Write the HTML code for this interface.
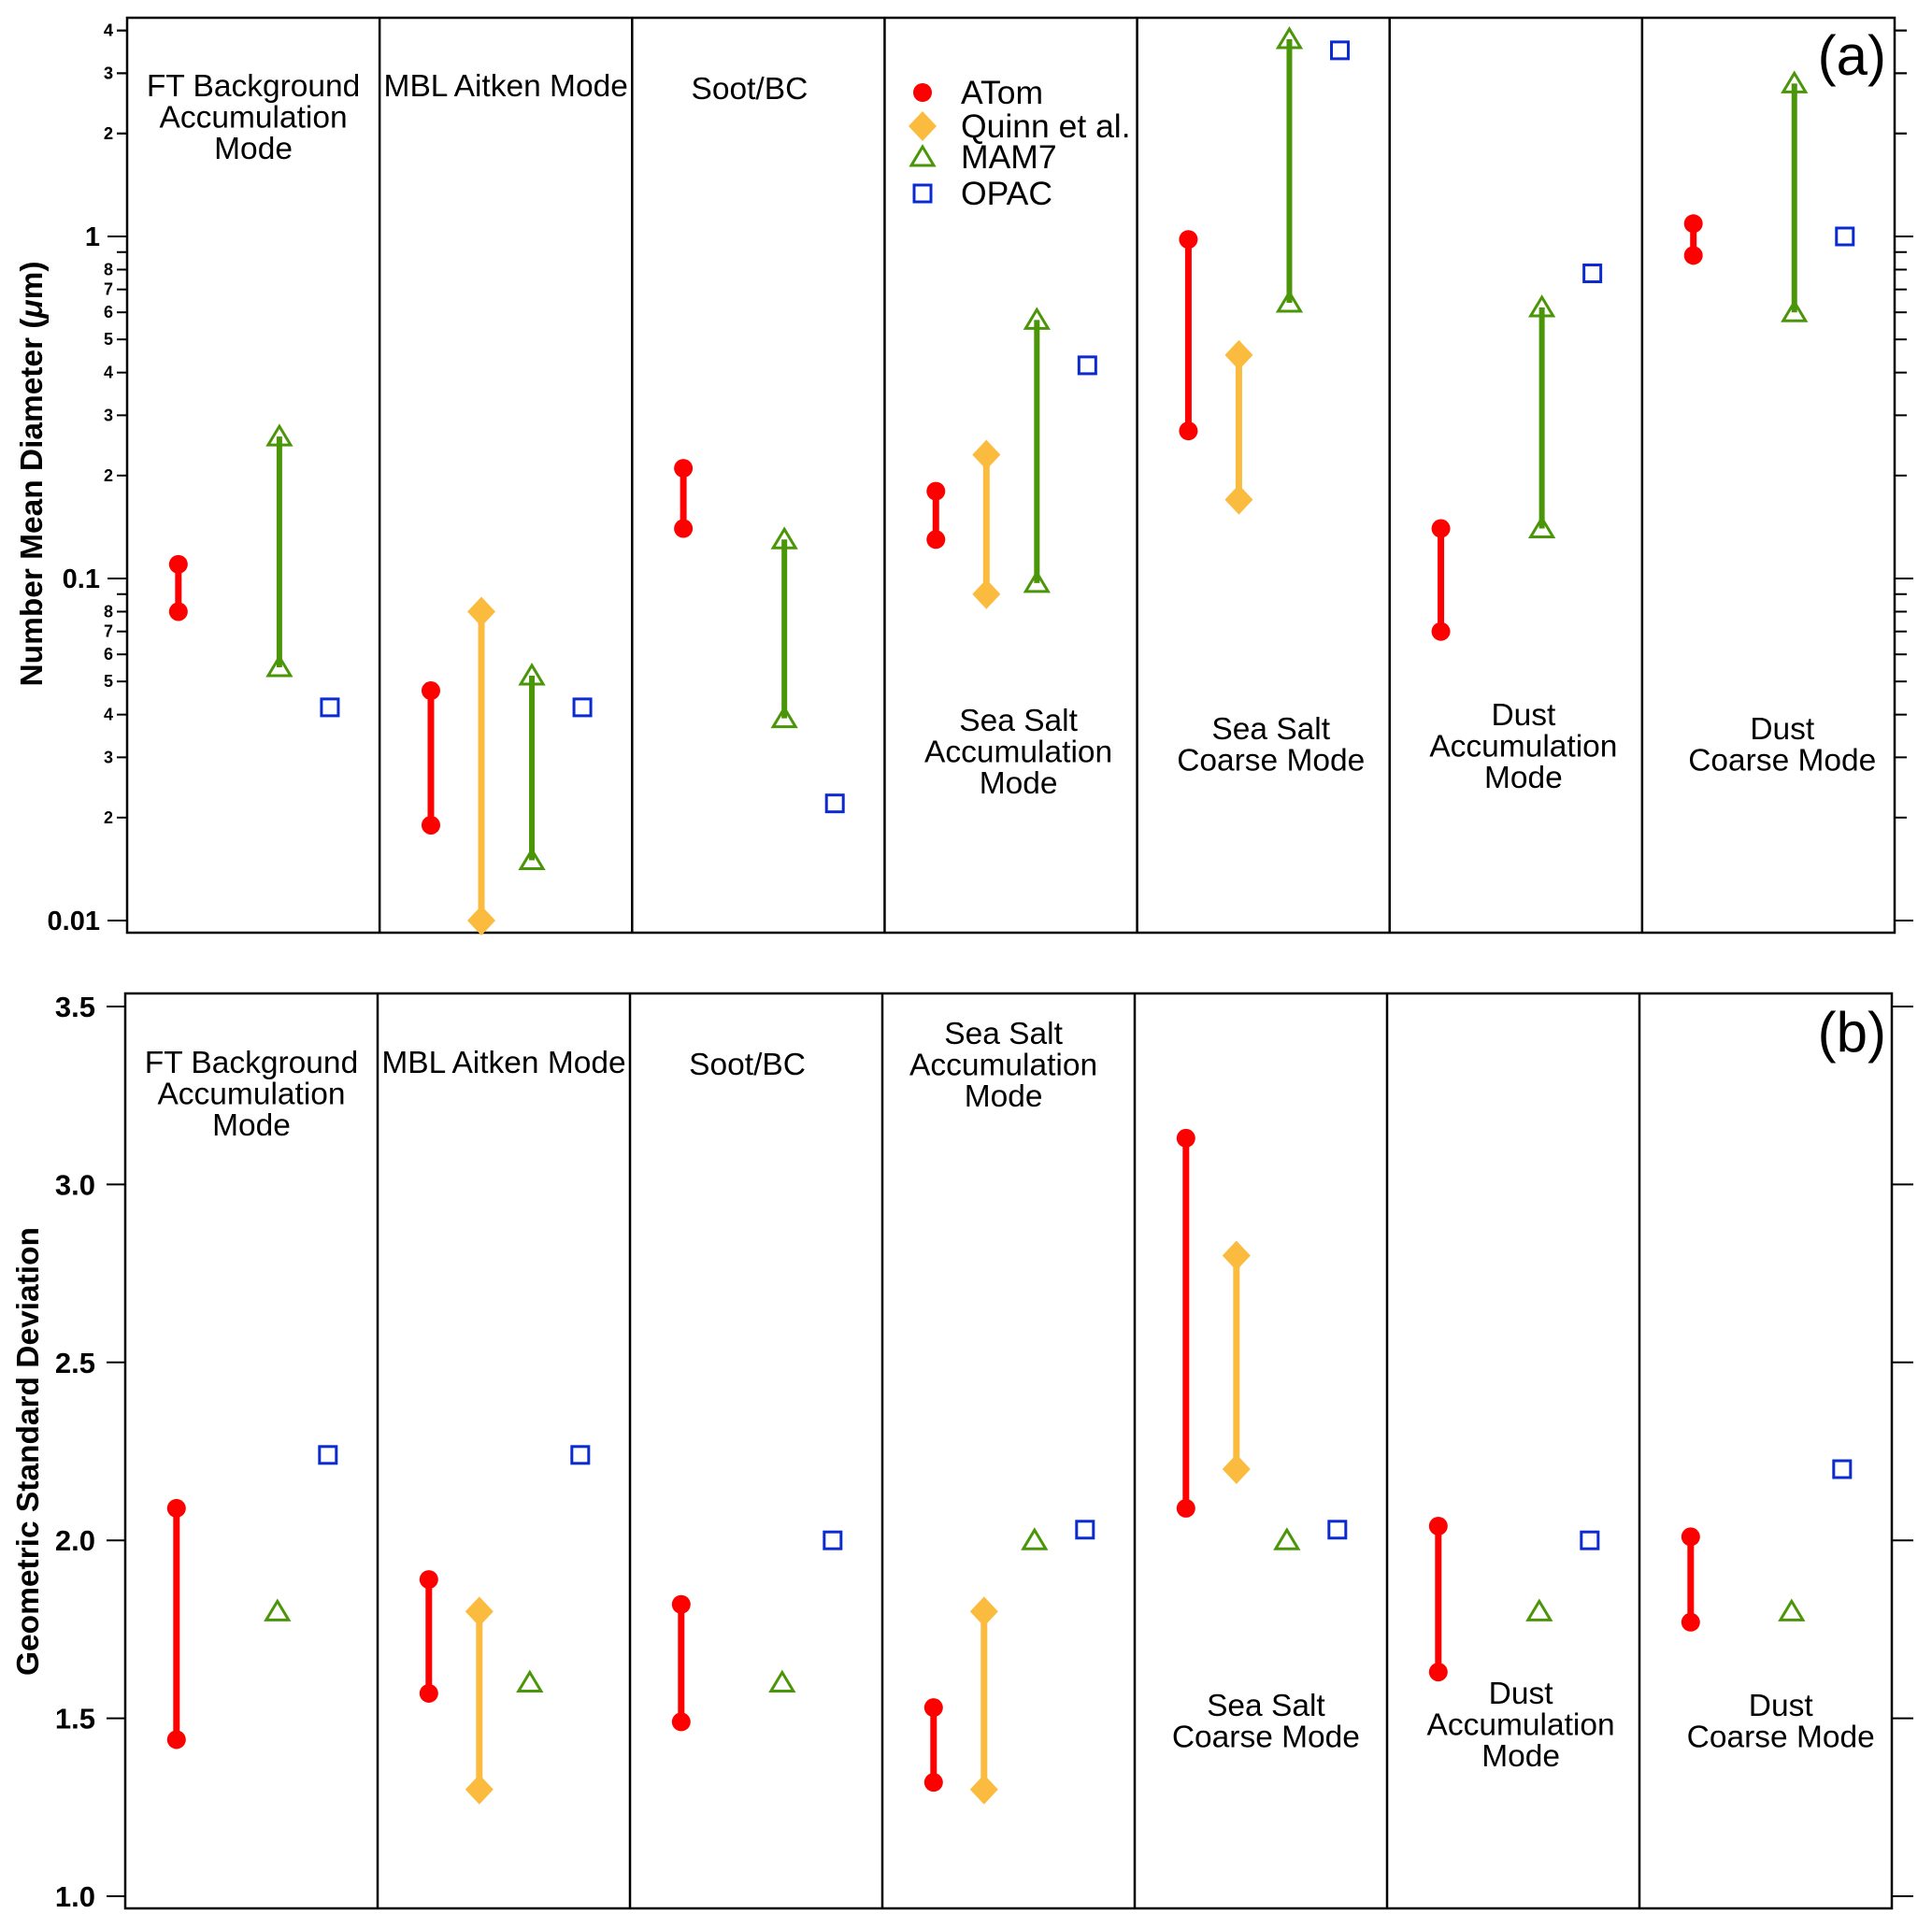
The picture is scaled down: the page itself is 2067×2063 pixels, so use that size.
<!DOCTYPE html>
<html><head><meta charset="utf-8"><style>
html,body{margin:0;padding:0;background:#fff}
svg{display:block}
text{font-family:"Liberation Sans",sans-serif}
</style></head><body>
<svg id="chart" width="2067" height="2063" viewBox="0 0 2067 2063" xmlns="http://www.w3.org/2000/svg"></svg>
<script>
// ---- data ----
const categoriesA = [["FT Background","Accumulation","Mode"],["MBL Aitken Mode"],["Soot/BC"],["Sea Salt","Accumulation","Mode"],["Sea Salt","Coarse Mode"],["Dust","Accumulation","Mode"],["Dust","Coarse Mode"]];
const categoriesB = [["FT Background","Accumulation","Mode"],["MBL Aitken Mode"],["Soot/BC"],["Sea Salt","Accumulation","Mode"],["Sea Salt","Coarse Mode"],["Dust","Accumulation","Mode"],["Dust","Coarse Mode"]];
// Panel a: number mean diameter (um), [high, low] or null
const atomDiamHigh = [0.11, 0.047, 0.21, 0.18, 0.98, 0.14, 1.09];
const atomDiamLow  = [0.08, 0.019, 0.14, 0.13, 0.27, 0.07, 0.88];
const quinnDiamHigh = [null, 0.08, null, 0.23, 0.45, null, null];
const quinnDiamLow  = [null, 0.01, null, 0.09, 0.17, null, null];
const mamDiamHigh = [0.26, 0.052, 0.13, 0.57, 3.77, 0.62, 2.8];
const mamDiamLow  = [0.055, 0.015, 0.039, 0.097, 0.64, 0.14, 0.6];
const opacDiam = [0.042, 0.042, 0.022, 0.42, 3.5, 0.78, 1.0];
// Panel b: geometric standard deviation
const atomSigHigh = [2.09, 1.89, 1.82, 1.53, 3.13, 2.04, 2.01];
const atomSigLow  = [1.44, 1.57, 1.49, 1.32, 2.09, 1.63, 1.77];
const quinnSigHigh = [null, 1.8, null, 1.8, 2.8, null, null];
const quinnSigLow  = [null, 1.3, null, 1.3, 2.2, null, null];
const mamSig = [1.8, 1.6, 1.6, 2.0, 2.0, 1.8, 1.8];
const opacSig = [2.24, 2.24, 2.0, 2.03, 2.03, 2.0, 2.2];
const ticksA = [0.01, 0.1, 1];
const ticksALabels = ["0.01", "0.1", "1"];
const ticksB = [1.0, 1.5, 2.0, 2.5, 3.0, 3.5];
const ticksBLabels = ["1.0", "1.5", "2.0", "2.5", "3.0", "3.5"];
const legendNames = ["ATom", "Quinn et al.", "MAM7", "OPAC"];

// ---- layout ----
const RED="#ff0000", ORA="#fbbb3f", GRN="#4a9508", BLU="#0b2bd0";
const NS="http://www.w3.org/2000/svg";
const svg=document.getElementById('chart');
function el(tag, attrs, parent){const e=document.createElementNS(NS,tag);for(const k in attrs)e.setAttribute(k,attrs[k]);(parent||svg).appendChild(e);return e;}
const A={left:136,right:2027,top:19,bottom:998};
const B={left:134,right:2024,top:1063,bottom:2042};
const yA=v=>253-366*Math.log10(v);
const yB=v=>2029-(v-1)*380.8;
const pw=(A.right-A.left)/7;
const xA=(i,f)=>A.left+pw*i+pw*f;
const pwb=(B.right-B.left)/7;
const xB=(i,f)=>B.left+pwb*i+pwb*f;
const OFF=[0.203,0.403,0.603,0.803];

function circle(x,y,g){const c=el('circle',{cx:x,cy:y,r:10,fill:RED},g);}
function diamond(x,y,g){const p=el('polygon',{points:`${x},${y-16} ${x+15},${y} ${x},${y+16} ${x-15},${y}`,fill:ORA},g);}
function tri(x,y,g){const p=el('polygon',{points:`${x},${y-11} ${x+12},${y+9} ${x-12},${y+9}`,fill:'none',stroke:GRN,'stroke-width':3},g);}
function sq(x,y,g){const r=el('rect',{x:x-9,y:y-9,width:18,height:18,fill:'none',stroke:BLU,'stroke-width':3},g);}
function vline(x,y1,y2,c,w,g,name){const l=el('line',{x1:x,x2:x,y1:y1,y2:y2,stroke:c,'stroke-width':w},g);}

function frame(P,name){
  const g=el('g',{});
  el('rect',{x:P.left,y:P.top,width:P.right-P.left,height:P.bottom-P.top,fill:'none',stroke:'#000','stroke-width':2.5},g);
  const w=(P.right-P.left)/7;
  for(let i=1;i<7;i++){const l=el('line',{x1:P.left+w*i,x2:P.left+w*i,y1:P.top,y2:P.bottom,stroke:'#000','stroke-width':2.5},g);}
  return g;
}
function labels(cats,P,xf,ys,name){
  const w=(P.right-P.left)/7;
  cats.forEach((lines,i)=>{
    const t=el('text',{x:P.left+w*i+w*xf[i],'font-size':33.5,'text-anchor':'middle',fill:'#000'});
    
    lines.forEach((s,j)=>{const ts=el('tspan',{x:P.left+w*i+w*xf[i],y:ys[i]+j*33.5},t);ts.textContent=s;});
  });
}

// ===== Panel A =====
const gA=frame(A,'panel-a');
const tg=el('g',{});
for(let d=-2;d<=0;d++){for(let m=1;m<=9;m++){const v=m*Math.pow(10,d);const y=yA(v);if(y<A.top)continue;
  const major=m===1;
  el('line',{x1:major?115:125,x2:A.left,y1:y,y2:y,stroke:'#000','stroke-width':2},tg);
  el('line',{x1:A.right,x2:major?2047:2040,y1:y,y2:y,stroke:'#000','stroke-width':2},tg);
  if(!major&&m!==9){const t=el('text',{x:121,y:y+6,'font-size':18,'font-weight':'bold','text-anchor':'end'},tg);t.textContent=m;}
}}
for(let m=2;m<=4;m++){const y=yA(m);el('line',{x1:125,x2:A.left,y1:y,y2:y,stroke:'#000','stroke-width':2},tg);el('line',{x1:A.right,x2:2040,y1:y,y2:y,stroke:'#000','stroke-width':2},tg);const t=el('text',{x:121,y:y+6,'font-size':18,'font-weight':'bold','text-anchor':'end'},tg);t.textContent=m;}
ticksA.forEach((v,i)=>{const t=el('text',{x:107,y:yA(v)+10,'font-size':29,'font-weight':'bold','text-anchor':'end'},tg);t.textContent=ticksALabels[i];});
const ttlA=el('text',{x:0,y:0,'font-size':33,'font-weight':'bold','text-anchor':'middle',transform:'translate(45,507) rotate(-90)',textLength:455,lengthAdjust:'spacingAndGlyphs'});

ttlA.innerHTML='Number Mean Diameter (<tspan font-style="italic">μ</tspan>m)';

const sA=el('g',{});
for(let i=0;i<7;i++){
  let x=xA(i,OFF[0]);vline(x,yA(atomDiamHigh[i]),yA(atomDiamLow[i]),RED,7,sA,'atom-range');circle(x,yA(atomDiamHigh[i]),sA);circle(x,yA(atomDiamLow[i]),sA);
  if(quinnDiamHigh[i]!==null){x=xA(i,OFF[1]);vline(x,yA(quinnDiamHigh[i]),yA(quinnDiamLow[i]),ORA,7,sA,'quinn-range');diamond(x,yA(quinnDiamHigh[i]),sA);diamond(x,yA(quinnDiamLow[i]),sA);}
  x=xA(i,OFF[2]);vline(x,yA(mamDiamHigh[i]),yA(mamDiamLow[i]),GRN,6,sA,'mam7-range');tri(x,yA(mamDiamHigh[i]),sA);tri(x,yA(mamDiamLow[i]),sA);
  x=xA(i,OFF[3]);sq(x,yA(opacDiam[i]),sA);
}
labels(categoriesA,A,[0.5,0.5,0.465,0.53,0.53,0.53,0.555],[103,103,106,782,791,776,791],'category-label-a');
// legend
const lg=el('g',{});
const ly=[99,135,168,207];
circle(987,ly[0],lg);diamond(987,ly[1],lg);tri(987,ly[2],lg);sq(987,ly[3],lg);
legendNames.forEach((n,i)=>{const t=el('text',{x:1028,y:ly[i]+12,'font-size':35.5},lg);t.textContent=n;});
const pa=el('text',{x:2018,y:80,'font-size':60,'text-anchor':'end'});pa.textContent='(a)';

// ===== Panel B =====
const gB=frame(B,'panel-b');
const tgb=el('g',{});
ticksB.forEach((v,i)=>{const y=yB(v);el('line',{x1:114,x2:B.left,y1:y,y2:y,stroke:'#000','stroke-width':2},tgb);el('line',{x1:B.right,x2:2047,y1:y,y2:y,stroke:'#000','stroke-width':2},tgb);
  const t=el('text',{x:102,y:y+11,'font-size':31,'font-weight':'bold','text-anchor':'end'},tgb);t.textContent=ticksBLabels[i];});
const ttlB=el('text',{x:0,y:0,'font-size':33,'font-weight':'bold','text-anchor':'middle',transform:'translate(41,1553) rotate(-90)',textLength:480,lengthAdjust:'spacingAndGlyphs'});
ttlB.textContent='Geometric Standard Deviation';
const sB=el('g',{});
for(let i=0;i<7;i++){
  let x=xB(i,OFF[0]);vline(x,yB(atomSigHigh[i]),yB(atomSigLow[i]),RED,7,sB,'atom-range');circle(x,yB(atomSigHigh[i]),sB);circle(x,yB(atomSigLow[i]),sB);
  if(quinnSigHigh[i]!==null){x=xB(i,OFF[1]);vline(x,yB(quinnSigHigh[i]),yB(quinnSigLow[i]),ORA,7,sB,'quinn-range');diamond(x,yB(quinnSigHigh[i]),sB);diamond(x,yB(quinnSigLow[i]),sB);}
  x=xB(i,OFF[2]);tri(x,yB(mamSig[i]),sB);
  x=xB(i,OFF[3]);sq(x,yB(opacSig[i]),sB);
}
labels(categoriesB,B,[0.5,0.5,0.465,0.48,0.52,0.53,0.56],[1148,1148,1150,1117,1836,1823,1836],'category-label-b');
const pb=el('text',{x:2018,y:1125,'font-size':60,'text-anchor':'end'});pb.textContent='(b)';
</script>
</body></html>
